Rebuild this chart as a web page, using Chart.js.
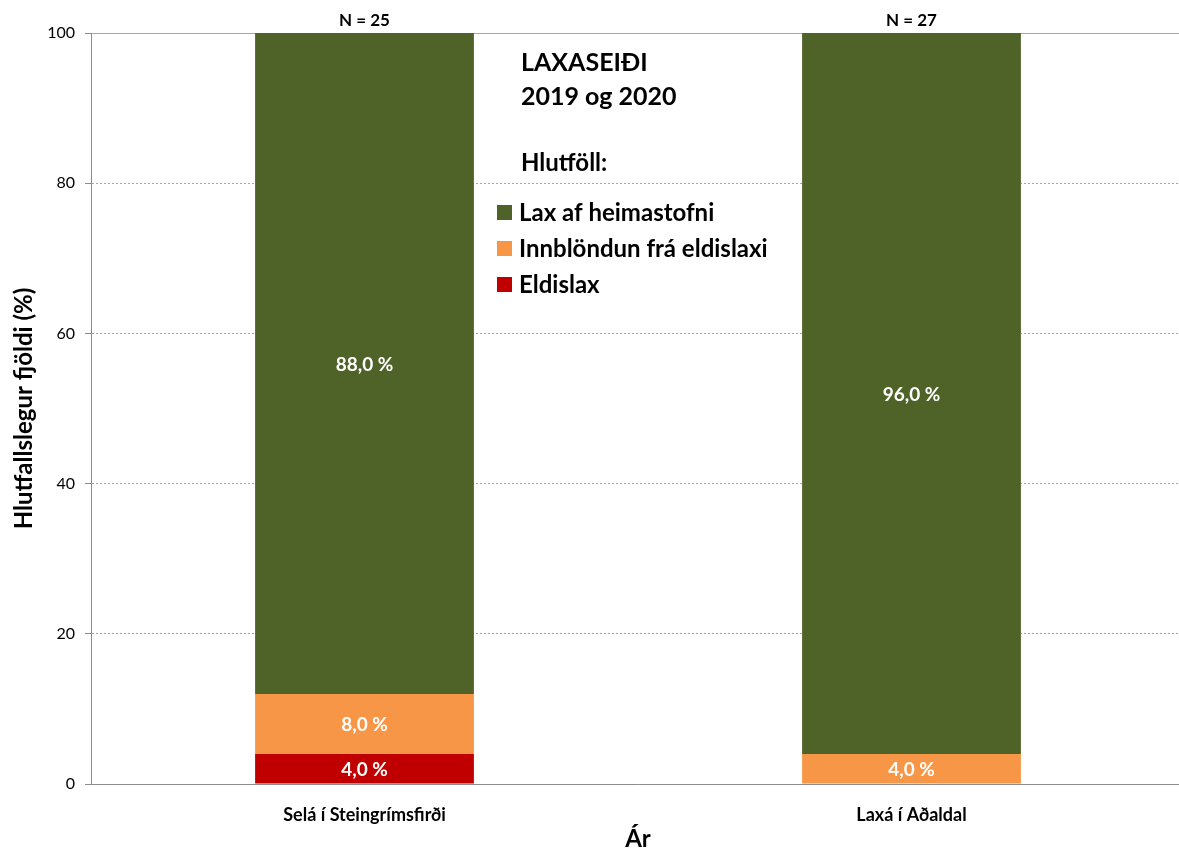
<!DOCTYPE html>
<html lang="is">
<head>
<meta charset="UTF-8">
<title>Laxaseiði 2019 og 2020</title>
<script src="https://cdn.jsdelivr.net/npm/chart.js"></script>
<style>
    html, body { margin: 0; padding: 0; background: #fff; overflow: hidden; }
    .wrap { position: relative; width: 1185px; height: 849px; }
</style>
</head>
<body>
<div class="wrap"><canvas id="chart"></canvas></div>
<script>
// ár / sýnatökustaðir
const rivers = ['Selá í Steingrímsfirði', 'Laxá í Aðaldal'];
const sampleSizes = [25, 27];

// hlutföll (%), neðst í stöplinum fyrst
const eldislax = [4, 0];
const innblondun = [8, 4];
const heimastofn = [88, 96];

const yTicks = [0, 20, 40, 60, 80, 100];

const FONT = 'Lato, "Liberation Sans", sans-serif';

const datasets = [
    { label: 'Eldislax', data: eldislax, backgroundColor: '#C00000' },
    { label: 'Innblöndun frá eldislaxi', data: innblondun, backgroundColor: '#F79646' },
    { label: 'Lax af heimastofni', data: heimastofn, backgroundColor: '#4F6228' }
];

// texti inni í stöplum, N fyrir ofan og skýringar
const labelPlugin = {
    id: 'labels',
    afterDatasetsDraw(chart) {
        const ctx = chart.ctx;
        const area = chart.chartArea;
        ctx.save();
        ctx.textAlign = 'center';
        ctx.textBaseline = 'middle';

        // gildi á hverjum hluta
        ctx.fillStyle = '#fff';
        ctx.font = 'bold 19px ' + FONT;
        chart.data.datasets.forEach((ds, di) => {
            chart.getDatasetMeta(di).data.forEach((bar, i) => {
                const v = ds.data[i];
                if (!v) return;
                const y = (bar.y + bar.base) / 2;
                ctx.fillText(v.toFixed(1).replace('.', ',') + ' %', bar.x, y + 1);
            });
        });

        // N ofan við stöpla
        ctx.fillStyle = '#000';
        ctx.font = 'bold 17px ' + FONT;
        const meta = chart.getDatasetMeta(0);
        sampleSizes.forEach((n, i) => {
            ctx.fillText('N = ' + n, meta.data[i].x, area.top - 12);
        });

        // fyrirsögn
        ctx.textAlign = 'left';
        ctx.font = 'bold 25px ' + FONT;
        ctx.fillText('LAXASEIÐI', 521, 63);
        ctx.fillText('2019 og 2020', 521, 97);
        ctx.font = 'bold 24px ' + FONT;
        ctx.fillText('Hlutföll:', 521, 163);

        // skýringar, efsti hluti fyrst
        ctx.font = 'bold 24px ' + FONT;
        const rows = chart.data.datasets.slice().reverse();
        rows.forEach((ds, k) => {
            const y = 212 + k * 36;
            ctx.fillStyle = ds.backgroundColor;
            ctx.fillRect(497, y - 7, 15, 15);
            ctx.fillStyle = '#000';
            ctx.fillText(ds.label, 519, y + 1);
        });
        ctx.restore();
    }
};

new Chart(document.getElementById('chart'), {
    type: 'bar',
    data: { labels: rivers, datasets: datasets },
    plugins: [labelPlugin],
    options: {
        responsive: true,
        maintainAspectRatio: false,
        animation: false,
        layout: { padding: { top: 33, right: 0, left: 0, bottom: 0 } },
        datasets: {
            bar: { barPercentage: 1, categoryPercentage: 0.4, borderWidth: 0 }
        },
        plugins: {
            legend: { display: false },
            tooltip: { enabled: false }
        },
        scales: {
            x: {
                stacked: true,
                grid: { display: false },
                border: { display: true, color: '#8c8c8c', width: 1 },
                ticks: { color: '#000', font: { family: FONT, size: 18, weight: 'bold' }, padding: 12 },
                title: {
                    display: true,
                    text: 'Ár',
                    color: '#000',
                    font: { family: FONT, size: 24, weight: 'bold' },
                    padding: { top: 0, bottom: -5 }
                },
                afterFit(scale) { scale.height = 65; }
            },
            y: {
                stacked: true,
                min: 0,
                max: 100,
                afterBuildTicks(scale) { scale.ticks = yTicks.map(v => ({ value: v })); },
                grid: {
                    color: '#a6a6a6',
                    lineWidth: 1,
                    tickLength: 6,
                    tickColor: '#8c8c8c'
                },
                border: {
                    display: true,
                    color: '#8c8c8c',
                    width: 1,
                    dash: ctx => (ctx.tick && ctx.tick.value > 0 && ctx.tick.value < 100) ? [2, 2] : []
                },
                ticks: { color: '#000', font: { family: FONT, size: 16 }, padding: 10 },
                title: {
                    display: true,
                    text: 'Hlutfallslegur fjöldi (%)',
                    color: '#000',
                    font: { family: FONT, size: 24, weight: 'bold' },
                    padding: { top: 10, bottom: 0 }
                },
                afterFit(scale) { scale.width = 91; }
            }
        }
    }
});
</script>
</body>
</html>
